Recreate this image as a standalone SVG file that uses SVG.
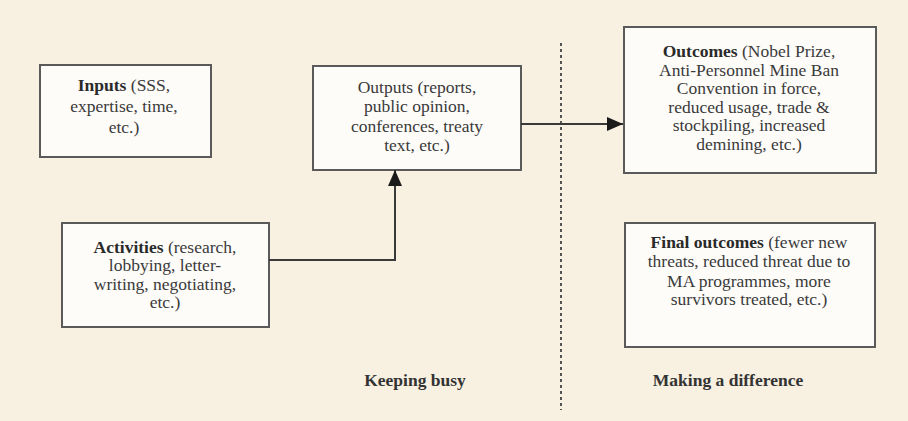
<svg xmlns="http://www.w3.org/2000/svg" width="908" height="421" viewBox="0 0 908 421">
<defs>
<style>
.box{fill:#fdfcf9;stroke:#5a5a5a;stroke-width:2}
.t{font-family:"Liberation Serif","Times New Roman",serif;font-size:17.5px;fill:#3a3a3a;text-anchor:middle}
.b{font-weight:bold;fill:#2a2a2a}
.conn{fill:none;stroke:#3a3a3a;stroke-width:2}
.lbl{font-family:"Liberation Serif","Times New Roman",serif;font-size:17.5px;font-weight:bold;fill:#333;text-anchor:middle}
</style>
<marker id="ah" viewBox="0 0 16 14" refX="16" refY="7" markerWidth="16" markerHeight="14" markerUnits="userSpaceOnUse" orient="auto">
<path d="M0,0 L16,7 L0,14 Z" fill="#1a1a1a"/>
</marker>
</defs>
<rect width="908" height="421" fill="#f8f0e1"/>
<line x1="561" y1="43" x2="561" y2="410" stroke="#555" stroke-width="2" stroke-dasharray="3,3"/>
<g id="inputs">
<rect class="box" x="40" y="65" width="171" height="92"/>
<text class="t" x="124" y="91"><tspan class="b">Inputs</tspan> (SSS,</text>
<text class="t" x="124" y="112">expertise, time,</text>
<text class="t" x="124" y="133">etc.)</text>
</g>
<g id="outputs">
<rect class="box" x="313" y="66" width="208" height="104"/>
<text class="t" x="417" y="93">Outputs (reports,</text>
<text class="t" x="417" y="112">public opinion,</text>
<text class="t" x="417" y="132">conferences, treaty</text>
<text class="t" x="417" y="151">text, etc.)</text>
</g>
<g id="outcomes">
<rect class="box" x="624" y="27" width="252" height="146"/>
<text class="t" x="749" y="57"><tspan class="b">Outcomes</tspan> (Nobel Prize,</text>
<text class="t" x="749" y="75.5">Anti-Personnel Mine Ban</text>
<text class="t" x="749" y="94">Convention in force,</text>
<text class="t" x="749" y="112.5">reduced usage, trade &amp;</text>
<text class="t" x="749" y="131">stockpiling, increased</text>
<text class="t" x="749" y="149.5">demining, etc.)</text>
</g>
<g id="activities">
<rect class="box" x="62" y="223" width="207" height="104"/>
<text class="t" x="165" y="253"><tspan class="b">Activities</tspan> (research,</text>
<text class="t" x="165" y="271">lobbying, letter-</text>
<text class="t" x="165" y="289.5">writing, negotiating,</text>
<text class="t" x="165" y="308">etc.)</text>
</g>
<g id="final-outcomes">
<rect class="box" x="625" y="223" width="250" height="124"/>
<text class="t" x="749" y="248"><tspan class="b">Final outcomes</tspan> (fewer new</text>
<text class="t" x="749" y="267">threats, reduced threat due to</text>
<text class="t" x="749" y="286.5">MA programmes, more</text>
<text class="t" x="749" y="305">survivors treated, etc.)</text>
</g>
<g id="connectors">
<line class="conn" x1="521" y1="124" x2="623" y2="124" marker-end="url(#ah)"/>
<polyline class="conn" points="269,260 395,260 395,170" marker-end="url(#ah)"/>
</g>
<g id="labels">
<text class="lbl" x="415" y="386">Keeping busy</text>
<text class="lbl" x="728" y="386">Making a difference</text>
</g>
</svg>
